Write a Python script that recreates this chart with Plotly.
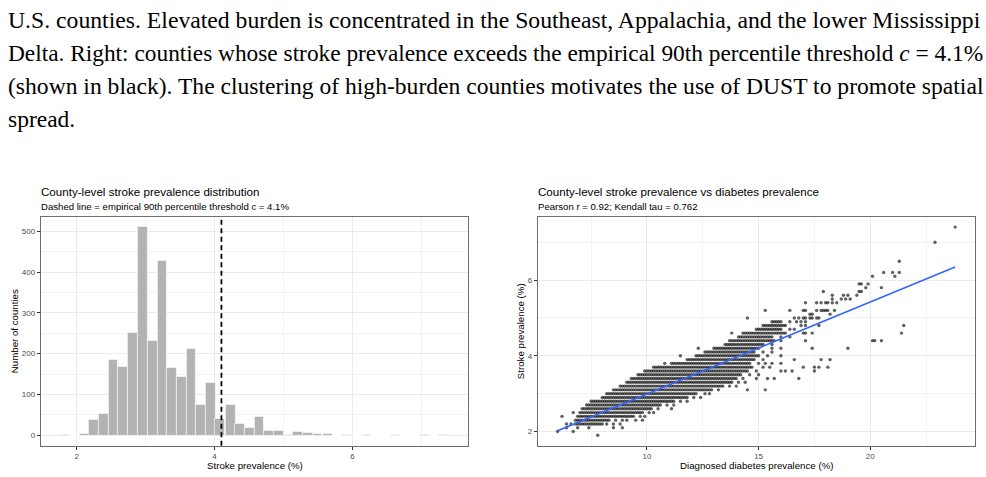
import plotly.graph_objects as go

W, H = 986, 477

# ---------------- caption text ----------------
caption_lines = [
    "U.S. counties. Elevated burden is concentrated in the Southeast, Appalachia, and the lower Mississippi",
    "Delta. Right: counties whose stroke prevalence exceeds the empirical 90th percentile threshold <i>c</i> = 4.1%",
    "(shown in black). The clustering of high-burden counties motivates the use of DUST to promote spatial",
    "spread.",
]

# ---------------- histogram data ----------------
bin_centers = [1.83, 1.97, 2.11, 2.25, 2.39, 2.53, 2.67, 2.81, 2.96, 3.10,
               3.24, 3.38, 3.52, 3.66, 3.80, 3.94, 4.08, 4.23, 4.37, 4.51,
               4.65, 4.79, 4.93, 5.07, 5.21, 5.35, 5.49, 5.64, 5.78, 5.92,
               6.06, 6.20, 6.34, 6.48, 6.62, 6.76, 6.90, 7.05, 7.19, 7.33]
bin_counts = [1, 0, 5, 38, 54, 185, 169, 251, 510, 231,
              427, 166, 144, 211, 76, 130, 40, 76, 28, 18,
              45, 12, 12, 2, 10, 7, 3, 5, 0, 2,
              0, 2, 0, 0, 1, 0, 0, 1, 0, 1]
bin_width = 0.141
threshold = 4.1
hist_xticks = [2, 4, 6]
hist_yticks = [0, 100, 200, 300, 400, 500]

# ---------------- scatter data ----------------
# dense rows: stroke level, diabetes range covered (0.1 grid)
row_stroke = [2.2, 2.3, 2.4, 2.5, 2.6, 2.7, 2.8, 2.9, 3.0, 3.1, 3.2, 3.3, 3.4, 3.5,
              3.6, 3.7, 3.8, 3.9, 4.0, 4.1, 4.2, 4.3, 4.4, 4.5, 4.6, 4.7, 4.8, 4.9]
row_diab_lo = [6.8, 6.8, 6.9, 7.0, 7.1, 7.3, 7.5, 8.0, 8.2, 8.5, 8.8, 9.1, 9.3, 9.6,
               9.9, 10.3, 11.1, 11.8, 12.2, 12.6, 13.0, 13.5, 13.7, 14.1, 14.3, 14.9, 15.2, 15.6]
row_diab_hi = [8.0, 8.3, 9.4, 9.8, 10.2, 10.6, 11.2, 11.8, 12.2, 12.9, 13.4, 13.8, 14.0, 14.2,
               14.5, 14.7, 14.6, 14.8, 15.0, 14.8, 15.0, 15.2, 15.7, 15.6, 16.2, 16.0, 16.2, 16.0]
# isolated counties: stroke level and diabetes values
sparse_stroke = [1.9, 2.0, 2.1, 2.2, 2.3, 2.4, 2.5, 2.6, 2.7, 2.8, 2.9, 3.0, 3.1, 3.2,
                 3.3, 3.4, 3.5, 3.6, 3.7, 3.8, 3.9, 4.0, 4.1, 4.2, 4.3, 4.4, 4.5, 4.6,
                 4.7, 4.8, 4.9, 5.0, 5.1, 5.2, 5.4, 5.5, 5.6, 5.7, 5.8, 5.9, 6.1, 6.2,
                 6.5, 7.0, 7.4]
sparse_diab = [
    [7.8], [6.0, 6.7], [6.4, 6.9, 7.4, 8.5, 8.9], [6.4, 6.6, 8.2, 8.5, 8.8],
    [8.6, 8.9, 9.1, 9.5, 9.8], [6.2, 9.7, 9.9], [6.7, 10.1, 10.3], [10.5, 11.1],
    [10.9, 11.2], [11.5, 11.8], [12.1, 12.4], [12.6, 12.8], [13.2, 14.5, 15.3],
    [13.7, 14.0], [14.1, 14.4], [14.3, 14.9, 15.4, 15.7, 16.8], [14.6, 15.0],
    [14.9, 16.0, 16.2, 16.5, 17.5], [15.2, 15.5, 17.0, 17.5, 17.7, 18.1],
    [10.8, 15.0, 15.3, 15.6, 16.0], [15.2, 16.6, 17.8, 18.2], [11.5, 15.4, 16.0],
    [15.2, 15.6], [12.3, 15.6, 16.0, 17.4, 19.0], [15.6],
    [16.0, 17.1, 20.1, 20.2, 20.5], [16.0, 16.4], [13.8, 17.0, 17.1, 17.4, 21.4],
    [16.4, 16.6], [16.9, 17.1, 17.7, 21.5], [16.4, 16.7, 16.9, 17.1],
    [14.5, 16.6, 16.8, 17.0, 17.1, 17.3, 17.4, 17.6, 17.7], [17.3, 17.4, 18.2],
    [15.3, 16.4, 17.0, 17.1, 17.6, 17.8, 17.9, 18.0, 18.1, 18.4],
    [17.1, 17.6, 17.8, 18.0, 18.1, 18.3, 18.5], [18.3, 18.7, 18.9, 19.1],
    [18.3, 18.8, 19.0, 19.4], [17.9, 19.5, 19.6], [19.8, 20.5], [19.5, 19.6, 19.9],
    [20.1, 21.1], [20.6, 21.0, 21.3], [21.3], [22.9], [23.8],
]
fit_intercept = 0.56
fit_slope = 0.243
sc_xticks = [10, 15, 20]
sc_yticks = [2, 4, 6]

# ---------------- build point lists ----------------
pts_x, pts_y = [], []
for s, lo, hi in zip(row_stroke, row_diab_lo, row_diab_hi):
    n = int(round((hi - lo) / 0.1))
    for i in range(n + 1):
        pts_x.append(round(lo + 0.1 * i, 1))
        pts_y.append(s)
for s, xs in zip(sparse_stroke, sparse_diab):
    for v in xs:
        pts_x.append(v)
        pts_y.append(s)

# ---------------- geometry ----------------
def px_x(p):
    return p / W

def px_y(p):
    return 1 - p / H

hist_dom_x = [px_x(40.7), px_x(468.3)]
sc_dom_x = [px_x(537.7), px_x(975.0)]
dom_y = [px_y(445.7), px_y(216.7)]

edge_lo = bin_centers[0] - bin_width / 2
edge_hi = bin_centers[-1] + bin_width / 2
hspan = edge_hi - edge_lo
hist_xrange = [edge_lo - 0.05 * hspan, edge_hi + 0.05 * hspan]
cmax = max(bin_counts)
hist_yrange = [-0.05 * cmax, 1.05 * cmax]

xmin, xmax = min(pts_x), max(pts_x)
ymin, ymax = min(pts_y), max(pts_y)
sc_xrange = [xmin - 0.05 * (xmax - xmin), xmax + 0.05 * (xmax - xmin)]
sc_yrange = [ymin - 0.05 * (ymax - ymin), ymax + 0.05 * (ymax - ymin)]

FONT = "Liberation Sans, Arial, sans-serif"
SERIF = "Liberation Serif, Times New Roman, serif"
GRID = "#EBEBEB"
MINOR = "#F3F3F3"
BORDER = "#6E6E6E"
TICKC = "#4D4D4D"

fig = go.Figure()

fig.add_trace(go.Bar(
    x=bin_centers, y=bin_counts, width=bin_width,
    marker=dict(color="#B3B3B3", line=dict(color="white", width=0.6)),
    xaxis="x", yaxis="y", showlegend=False, hoverinfo="skip",
))

fig.add_trace(go.Scatter(
    x=pts_x, y=pts_y, mode="markers",
    marker=dict(color="black", size=3.4, opacity=0.62, line=dict(width=0)),
    xaxis="x2", yaxis="y2", showlegend=False, hoverinfo="skip",
))

fit_x = [xmin, xmax]
fit_y = [fit_intercept + fit_slope * v for v in fit_x]
fig.add_trace(go.Scatter(
    x=fit_x, y=fit_y, mode="lines",
    line=dict(color="#3366FF", width=1.6),
    xaxis="x2", yaxis="y2", showlegend=False, hoverinfo="skip",
))

def axis_common():
    return dict(
        showline=True, mirror=True, linecolor=BORDER, linewidth=1,
        showgrid=True, gridcolor=GRID, gridwidth=1,
        zeroline=False, ticks="outside", ticklen=3, tickwidth=1, tickcolor="#333333",
        tickfont=dict(family=FONT, size=8, color=TICKC),
    )

fig.update_layout(
    width=W, height=H, autosize=False,
    margin=dict(l=0, r=0, t=0, b=0),
    paper_bgcolor="white", plot_bgcolor="white",
    bargap=0,
    xaxis=dict(domain=hist_dom_x, range=hist_xrange, tickvals=hist_xticks,
               minor=dict(dtick=1, tick0=0, showgrid=True, gridcolor=MINOR, gridwidth=1),
               anchor="y", **axis_common()),
    yaxis=dict(domain=dom_y, range=hist_yrange, tickvals=hist_yticks,
               minor=dict(dtick=50, tick0=0, showgrid=True, gridcolor=MINOR, gridwidth=1),
               anchor="x", **axis_common()),
    xaxis2=dict(domain=sc_dom_x, range=sc_xrange, tickvals=sc_xticks,
                minor=dict(dtick=2.5, tick0=0, showgrid=True, gridcolor=MINOR, gridwidth=1),
                anchor="y2", **axis_common()),
    yaxis2=dict(domain=dom_y, range=sc_yrange, tickvals=sc_yticks,
                minor=dict(dtick=1, tick0=0, showgrid=True, gridcolor=MINOR, gridwidth=1),
                anchor="x2", **axis_common()),
)

shapes = [
    dict(type="line", xref="x", yref="y", x0=edge_lo, x1=edge_hi, y0=0, y1=0,
         line=dict(color="white", width=1), layer="between"),
    dict(type="line", xref="x", yref="y domain", x0=threshold, x1=threshold, y0=0, y1=1,
         line=dict(color="black", width=1.8, dash="5px,3.5px"), layer="above"),
]
fig.update_layout(shapes=shapes)

ann = []
# caption
cap_y = [20, 53, 86, 118.5]
cap_size = [23.7, 23.35, 23.6, 23.5]
for txt, yy, sz in zip(caption_lines, cap_y, cap_size):
    ann.append(dict(text=txt, x=px_x(6), y=px_y(yy), xref="paper", yref="paper",
                    xanchor="left", yanchor="middle", showarrow=False,
                    font=dict(family=SERIF, size=sz, color="black")))

def title_block(x_left, title, subtitle, tsize):
    ann.append(dict(text=title, x=px_x(x_left - 2), y=px_y(191.5), xref="paper", yref="paper",
                    xanchor="left", yanchor="middle", showarrow=False,
                    font=dict(family=FONT, size=tsize, color="black")))
    ann.append(dict(text=subtitle, x=px_x(x_left - 2), y=px_y(206.5), xref="paper", yref="paper",
                    xanchor="left", yanchor="middle", showarrow=False,
                    font=dict(family=FONT, size=9.6, color="black")))

title_block(40.7, "County-level stroke prevalence distribution",
            "Dashed line = empirical 90th percentile threshold c = 4.1%", 11.6)
title_block(537.7, "County-level stroke prevalence vs diabetes prevalence",
            "Pearson r = 0.92; Kendall tau = 0.762", 11.6)

def xtitle(cx, text):
    ann.append(dict(text=text, x=px_x(cx), y=px_y(465), xref="paper", yref="paper",
                    xanchor="center", yanchor="middle", showarrow=False,
                    font=dict(family=FONT, size=9.7, color="black")))

def ytitle(cx, text):
    ann.append(dict(text=text, x=px_x(cx), y=(dom_y[0] + dom_y[1]) / 2, xref="paper", yref="paper",
                    xanchor="center", yanchor="middle", showarrow=False, textangle=-90,
                    font=dict(family=FONT, size=9.7, color="black")))

xtitle(254.5, "Stroke prevalence (%)")
xtitle(756.3, "Diagnosed diabetes prevalence (%)")
ytitle(14, "Number of counties")
ytitle(520, "Stroke prevalence (%)")

fig.update_layout(annotations=ann)

fig.write_html("out.html")
